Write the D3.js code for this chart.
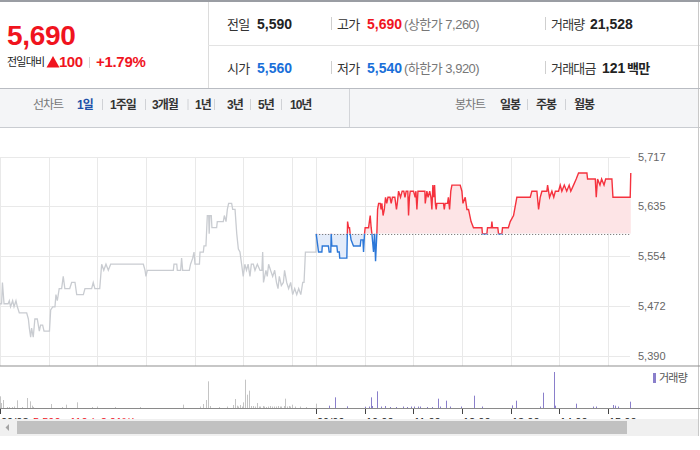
<!DOCTYPE html>
<html><head><meta charset="utf-8">
<script src="https://cdn.jsdelivr.net/npm/d3@7"></script>
<style>body{margin:0;background:#fff}svg{display:block}</style>
</head><body><svg id="c" width="700" height="450"></svg>
<script>
// ---------- DATA ----------
const prevDay = [[0,5475],[2,5475],[3,5510],[5,5475],[10,5475],[11.5,5480],[13,5470],[15.6,5480],[17.3,5470],[19.7,5480],[21.4,5470],[23.8,5460],[32.9,5460],[35,5450],[36.2,5435],[37.8,5420],[39,5435],[41,5420],[43,5450],[46,5450],[48.5,5430],[50,5440],[52.6,5440],[54.3,5430],[61,5430],[62.5,5465],[65,5470],[67.8,5470],[69,5490],[70.7,5480],[73,5500],[76,5500],[78,5520],[80,5500],[86,5500],[88.4,5510],[92.5,5510],[94.6,5490],[102.8,5490],[104.8,5500],[113,5500],[115,5510],[117,5500],[123,5500],[125.4,5540],[128,5530],[130.7,5540],[133.6,5530],[136.5,5540],[176.8,5540],[178.9,5530],[180,5520],[181.7,5530],[213.8,5530],[214.6,5540],[218,5540],[218.7,5530],[222.8,5530],[224,5550],[225.3,5530],[233.5,5530],[235,5540],[237.7,5550],[239.3,5560],[240.5,5540],[246,5540],[246.7,5560],[250.8,5560],[251.6,5570],[254,5570],[255.7,5620],[257.4,5620],[258,5590],[258.9,5620],[260.6,5620],[261.4,5600],[267.2,5600],[268,5610],[275.4,5610],[276.7,5620],[278.8,5610],[280.4,5630],[282,5640],[285.7,5640],[287,5630],[289.9,5630],[292,5590],[294,5565],[296,5560],[298,5540],[300,5520],[302,5540],[304,5530],[306,5540],[308.3,5520],[310,5540],[312.5,5540],[314.5,5530],[317.4,5540],[320.7,5530],[323,5530],[324,5560],[325,5510],[328,5530],[329.6,5520],[331.3,5540],[333.7,5530],[336.3,5520],[338.8,5530],[341,5510],[342.9,5500],[344.5,5520],[347,5505],[349.5,5510],[351,5530],[353.6,5510],[356,5500],[358.5,5510],[361,5490],[363.5,5500],[366,5490],[368.4,5500],[371,5490],[373.4,5510],[375,5510],[376.7,5560],[389.8,5560],[390,5590]];

const today = [[0,5590],[2.9,5560],[7,5560],[7.5,5570],[15,5570],[16,5560],[18,5560],[18.5,5590],[19.3,5570],[25.5,5570],[26.3,5560],[28.5,5560],[29,5550],[37.8,5550],[38.7,5610],[39.9,5600],[41.1,5600],[41.9,5590],[43,5580],[46,5570],[54.3,5570],[55.1,5580],[57.6,5580],[58.4,5560],[59.6,5590],[60.4,5600],[64.6,5600],[66.6,5620],[67.8,5600],[68.7,5590],[70.7,5560],[72,5590],[73.2,5545],[74.8,5590],[75.7,5630],[77,5640],[79,5640],[80,5630],[81,5640],[82.5,5620],[84,5630],[85.5,5650],[87,5640],[88.5,5650],[91,5650],[92.5,5640],[94,5650],[97,5650],[99,5630],[100,5640],[101.6,5660],[104,5650],[106,5660],[108,5660],[109.5,5650],[111,5660],[113,5660],[113.9,5620],[115,5650],[116,5660],[120,5660],[122,5650],[123,5660],[124.2,5630],[125.5,5660],[134,5660],[134.5,5640],[136.5,5660],[138,5650],[140,5660],[141.5,5650],[142.7,5630],[143.9,5670],[145,5650],[146,5670],[147,5640],[148,5630],[148.8,5640],[157,5640],[158,5630],[159,5640],[162,5640],[163,5650],[164.5,5630],[166,5660],[167.4,5670],[177.6,5670],[179.7,5660],[181,5640],[183.8,5650],[185.9,5630],[187.9,5630],[191,5610],[194,5600],[204.4,5600],[205,5590],[210.5,5590],[211.3,5600],[216,5600],[216.7,5610],[217.5,5600],[224,5600],[224.9,5590],[229,5590],[229.8,5600],[237,5600],[239.3,5610],[243.4,5620],[247.5,5650],[264,5650],[266,5660],[272.2,5660],[274.3,5630],[276.3,5650],[278.4,5660],[284.5,5660],[285.4,5670],[287.8,5650],[290.7,5660],[293,5650],[295,5660],[298.9,5660],[301,5670],[303,5660],[306,5670],[309,5660],[312,5670],[314,5660],[317.4,5670],[320.7,5680],[323.6,5690],[333.9,5690],[334.7,5680],[344.2,5680],[345.4,5650],[347,5680],[350,5670],[352,5680],[355,5670],[357,5680],[364.7,5680],[366,5650],[387.3,5650],[388,5690]];

const prevVol = [[0,1750],[1,750],[4,1200],[9,150],[11,150],[15,150],[17,225],[21,1150],[27,150],[33,1500],[37,1000],[39,350],[41,150],[63,600],[76,150],[81,500],[95,850],[113,150],[120,220],[142,150],[173,150],[226,500],[247,220],[250,600],[254,1200],[256,4000],[259,300],[270,150],[280,220],[287,450],[290,1350],[292,350],[294,220],[296,450],[298,220],[300,850],[302,4250],[305,2000],[307,2600],[310,300],[312,300],[314,220],[317,750],[319,220],[321,220],[324,300],[326,220],[328,150],[330,220],[333,300],[336,220],[338,220],[341,220],[343,300],[345,220],[347,220],[350,300],[352,1400],[354,220],[356,300],[358,220],[360,500],[364,220],[370,220],[377,150],[390,650]];

const todayVol = [[15.5,350],[23,1600],[38,250],[60,200],[65,220],[67,1600],[69,300],[75.6,2500],[80,220],[85,300],[91,150],[99,150],[107,220],[112,150],[117,220],[121,220],[125,220],[128,220],[137,150],[143,150],[150,1400],[153,220],[160,1100],[165,220],[178,220],[195,1850],[205,220],[242,400],[247,1100],[276,220],[280,2300],[293,5400],[294,350],[320,650],[342,220],[345,220],[366,450],[368,350],[372,220],[387,950]];

const priceTicks = [5390, 5472, 5554, 5635, 5717];
const prevClose = 5590;
const gridMinutes = [0,60,120,180,240,300,360,390,450,510,570,630,690,750];
const timeTicks = [0,390,450,510,570,630,690,750];
const timeLabels = ["09/08","09/09","10:00","11:00","12:00","13:00","14:00","15:00"];

// ---------- DRAW ----------
const svg = d3.select("#c");
const KR = "'Liberation Sans', Arial, 'Noto Sans CJK KR', sans-serif";
const RED = "#f0141e", BLUE = "#1a6fd9";

function txt(x, y, s, o = {}) {
  return svg.append("text").attr("x", x).attr("y", y).text(s)
    .attr("font-family", KR).attr("font-size", o.size || 13)
    .attr("font-weight", o.bold ? "bold" : "normal")
    .attr("fill", o.color || "#333")
    .attr("letter-spacing", o.ls || 0)
    .attr("text-anchor", o.anchor || "start");
}
function line(x1, y1, x2, y2, c, w = 1) {
  svg.append("line").attr("x1", x1).attr("y1", y1).attr("x2", x2).attr("y2", y2)
    .attr("stroke", c).attr("stroke-width", w);
}

// top strip
svg.append("rect").attr("x", 0).attr("y", 0).attr("width", 700).attr("height", 2).attr("fill", "#9a9da3");

// header
line(208.5, 2, 208.5, 88, "#dcdcdc");
line(208, 45.5, 700, 45.5, "#e3e3e3");
line(0, 88.5, 700, 88.5, "#b9bcc2");
line(698.5, 2, 698.5, 88, "#c8c8c8");

txt(7, 45, "5,690", {size: 28, bold: true, color: RED, ls: -0.3});
txt(7, 66, "전일대비", {size: 11, color: "#222", ls: -0.8});
svg.append("path").attr("d", "M53,56 L59.5,67.5 L46.5,67.5 Z").attr("fill", RED);
txt(59, 67, "100", {size: 15, bold: true, color: RED, ls: -0.5});
line(89.5, 57, 89.5, 68, "#d5d5d5");
txt(96, 67, "+1.79%", {size: 15, bold: true, color: RED, ls: -0.3});

const r1 = 29, r2 = 73;
txt(227, r1, "전일", {size: 13, color: "#333", ls: -0.8});
txt(257, r1, "5,590", {size: 14, bold: true, color: "#222"});
line(331.5, 17, 331.5, 30, "#cfcfcf");
txt(337, r1, "고가", {size: 13, color: "#333", ls: -0.8});
txt(367, r1, "5,690", {size: 14, bold: true, color: RED});
txt(404, r1, "(상한가 7,260)", {size: 13, color: "#777", ls: -0.5});
line(545.5, 17, 545.5, 30, "#cfcfcf");
txt(551, r1, "거래량", {size: 13, color: "#333", ls: -0.8});
txt(590, r1, "21,528", {size: 14, bold: true, color: "#222"});

txt(227, r2, "시가", {size: 13, color: "#333", ls: -0.8});
txt(257, r2, "5,560", {size: 14, bold: true, color: BLUE});
line(331.5, 61, 331.5, 74, "#cfcfcf");
txt(337, r2, "저가", {size: 13, color: "#333", ls: -0.8});
txt(367, r2, "5,540", {size: 14, bold: true, color: BLUE});
txt(404, r2, "(하한가 3,920)", {size: 13, color: "#777", ls: -0.5});
line(545.5, 61, 545.5, 74, "#cfcfcf");
txt(551, r2, "거래대금", {size: 13, color: "#333", ls: -0.8});
txt(602, r2, "121", {size: 14, bold: true, color: "#222"});
txt(627, r2, "백만", {size: 13, bold: true, color: "#222", ls: -0.8});

// toolbar
svg.append("rect").attr("x", 0).attr("y", 89).attr("width", 698).attr("height", 38).attr("fill", "#f4f5f7");
line(0, 127.5, 700, 127.5, "#c9ccd1");
line(349.5, 89, 349.5, 127, "#d3d5d9");
line(698.5, 89, 698.5, 436, "#c8c8c8");
const ty = 109;
txt(33, ty, "선차트", {size: 12, color: "#777", ls: -1});
txt(77, ty, "1일", {size: 12, bold: true, color: "#1d4fa8", ls: -1});
txt(110, ty, "1주일", {size: 12, bold: true, color: "#333", ls: -1});
txt(152, ty, "3개월", {size: 12, bold: true, color: "#333", ls: -1});
txt(195, ty, "1년", {size: 12, bold: true, color: "#333", ls: -1});
txt(227, ty, "3년", {size: 12, bold: true, color: "#333", ls: -1});
txt(258, ty, "5년", {size: 12, bold: true, color: "#333", ls: -1});
txt(290, ty, "10년", {size: 12, bold: true, color: "#333", ls: -1});
[102, 145, 187.5, 214, 250, 281, 527, 565].forEach(x => line(x + 0.5, 99, x + 0.5, 110, "#d0d2d6"));
txt(455, ty, "봉차트", {size: 12, color: "#777", ls: -1});
txt(500, ty, "일봉", {size: 12, bold: true, color: "#333", ls: -1});
txt(536, ty, "주봉", {size: 12, bold: true, color: "#333", ls: -1});
txt(574, ty, "월봉", {size: 12, bold: true, color: "#333", ls: -1});

// scales
const x = d3.scaleLinear().domain([0, 780]).range([0, 632.4]);
const y = d3.scaleLinear().domain([5390, 5717]).range([355.5, 156.5]);
const yv = d3.scaleLinear().domain([0, 6000]).range([408, 368]);
const plotRight = 630;

// grid
const g = svg.append("g");
g.selectAll("line.h").data(priceTicks).join("line")
  .attr("x1", 0).attr("x2", plotRight).attr("y1", d => Math.round(y(d)) + 0.5).attr("y2", d => Math.round(y(d)) + 0.5)
  .attr("stroke", "#e9e9e9");
g.selectAll("line.v").data(gridMinutes).join("line")
  .attr("x1", d => Math.round(x(d)) + 0.5).attr("x2", d => Math.round(x(d)) + 0.5)
  .attr("y1", Math.round(y(5717)) + 0.5).attr("y2", 366)
  .attr("stroke", "#e9e9e9");

// y labels
g.selectAll("text.yl").data(priceTicks).join("text")
  .attr("x", 638).attr("y", d => y(d) + 4).text(d => d3.format(",")(d))
  .attr("font-family", KR).attr("font-size", 11).attr("fill", "#666");

// previous day line
const lineGen = d3.line().x(d => x(d[0])).y(d => y(d[1]));
svg.append("path").datum(prevDay).attr("d", lineGen)
  .attr("fill", "none").attr("stroke", "#c9ccd1").attr("stroke-width", 1.3);

// today
const todayPts = today.map(d => [d[0] + 390, d[1]]);
const defs = svg.append("defs");
const yc = y(prevClose);
defs.append("clipPath").attr("id", "above").append("rect")
  .attr("x", 0).attr("y", 140).attr("width", 700).attr("height", yc - 140);
defs.append("clipPath").attr("id", "below").append("rect")
  .attr("x", 0).attr("y", yc).attr("width", 700).attr("height", 366 - yc);
const areaGen = d3.area().x(d => x(d[0])).y0(yc).y1(d => y(d[1]));
svg.append("path").datum(todayPts).attr("d", areaGen).attr("fill", "#fde4e6").attr("clip-path", "url(#above)");
svg.append("path").datum(todayPts).attr("d", areaGen).attr("fill", "#e4ecfa").attr("clip-path", "url(#below)");
svg.append("line").attr("x1", x(390)).attr("x2", plotRight).attr("y1", Math.round(yc) + 0.5).attr("y2", Math.round(yc) + 0.5)
  .attr("stroke", "#666").attr("stroke-dasharray", "1,2");
svg.append("path").datum(todayPts).attr("d", lineGen).attr("fill", "none")
  .attr("stroke", "#f5323e").attr("stroke-width", 1.4).attr("clip-path", "url(#above)");
svg.append("path").datum(todayPts).attr("d", lineGen).attr("fill", "none")
  .attr("stroke", "#2d78d8").attr("stroke-width", 1.4).attr("clip-path", "url(#below)");

// panel separators
line(0, 366, 700, 366, "#8f8f8f");
line(0, 408.5, 700, 408.5, "#8a8a8a");

// volume
svg.selectAll("rect.pv").data(prevVol).join("rect")
  .attr("x", d => Math.round(x(d[0]))).attr("width", 1)
  .attr("y", d => yv(d[1])).attr("height", d => 408 - yv(d[1])).attr("fill", "#c4c4c4");
svg.selectAll("rect.tv").data(todayVol).join("rect")
  .attr("x", d => Math.round(x(d[0] + 390))).attr("width", 1)
  .attr("y", d => yv(d[1])).attr("height", d => 408 - yv(d[1])).attr("fill", "#8a7fcb");

// volume legend
svg.append("rect").attr("x", 653).attr("y", 373).attr("width", 3).attr("height", 10).attr("fill", "#8a7fcb");
txt(659, 382, "거래량", {size: 11, color: "#555", ls: -0.8});

// time ticks & labels
svg.selectAll("line.tt").data(timeTicks).join("line")
  .attr("x1", d => Math.round(x(d)) + 0.5).attr("x2", d => Math.round(x(d)) + 0.5)
  .attr("y1", 409).attr("y2", 414).attr("stroke", "#444");
svg.selectAll("text.tl").data(timeTicks).join("text")
  .attr("x", d => Math.round(x(d)) + 1).attr("y", 426).text((d, i) => timeLabels[i])
  .attr("font-family", KR).attr("font-size", 11).attr("fill", "#222");
txt(33, 426, "5,590 +110 (+2.01%)", {size: 11, color: RED});

// scrollbar
svg.append("rect").attr("x", 0).attr("y", 419).attr("width", 698).attr("height", 17).attr("fill", "#f0f0f0");
svg.append("rect").attr("x", 17).attr("y", 421).attr("width", 610).attr("height", 13).attr("fill", "#c1c1c1");
svg.append("path").attr("d", "M5.5,427.5 L9,424 L9,431 Z").attr("fill", "#a3a3a3");
</script></body></html>
